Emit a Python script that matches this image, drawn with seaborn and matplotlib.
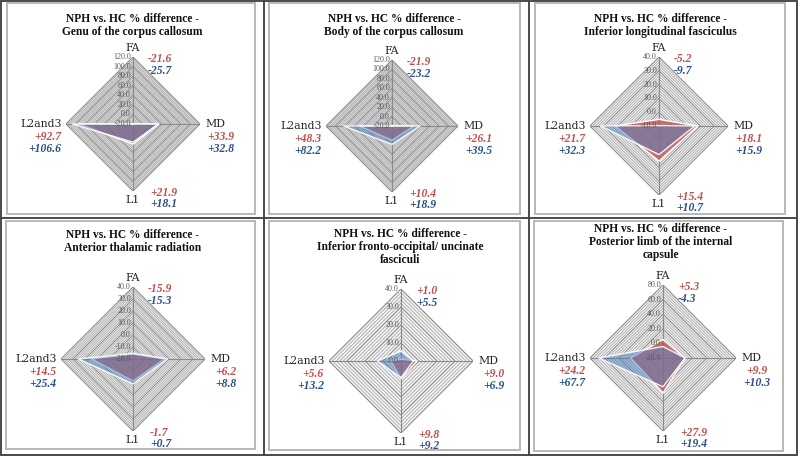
import numpy as np
import matplotlib
matplotlib.use("Agg")
import matplotlib.pyplot as plt
import seaborn as sns
from matplotlib.patches import Rectangle
from matplotlib.lines import Line2D

# ---------------- data ----------------
categories = ["FA", "MD", "L1", "L2and3"]
titles = [
    "NPH vs. HC % difference -\nGenu of the corpus callosum",
    "NPH vs. HC % difference -\nBody of the corpus callosum",
    "NPH vs. HC % difference -\nInferior longitudinal fasciculus",
    "NPH vs. HC % difference -\nAnterior thalamic radiation",
    "NPH vs. HC % difference -\nInferior fronto-occipital/ uncinate\nfasciculi",
    "NPH vs. HC % difference -\nPosterior limb of the internal\ncapsule",
]
red_values = [
    [-21.6, 33.9, 21.9, 92.7],
    [-21.9, 26.1, 10.4, 48.3],
    [-5.2, 18.1, 15.4, 21.7],
    [-15.9, 6.2, -1.7, 14.5],
    [1.0, 9.0, 9.8, 5.6],
    [5.3, 9.9, 27.9, 24.2],
]
blue_values = [
    [-25.7, 32.8, 18.1, 106.6],
    [-23.2, 39.5, 18.9, 82.2],
    [-9.7, 15.9, 10.7, 32.3],
    [-15.3, 8.8, 0.7, 25.4],
    [5.5, 6.9, 9.2, 13.2],
    [-4.3, 10.3, 19.4, 67.7],
]
axis_min = [-20, -20, -10, -20, 0, -20]
axis_max = [120, 120, 40, 40, 40, 80]
axis_step = [20, 20, 10, 10, 10, 20]

# ---------------- layout / style ----------------
W, H = 800, 458
radar_layout = [(133, 124, 67), (392, 126, 66), (659, 126, 69),
                (133, 359, 72), (401, 361, 72), (663, 358, 73)]
title_layout = [(132, 13), (394, 13), (660, 13), (133, 229), (400, 228), (661, 223)]
frame_layout = [(7, 3, 255, 214), (269, 3, 520, 214), (535, 3, 785, 214),
                (6, 221, 255, 449), (269, 221, 520, 450), (534, 221, 783, 451)]

RED = "#c0504d"
BLUE = "#4f81bd"
RED_TXT = "#c0504d"
BLUE_TXT = "#2b4f8a"

sns.set_theme(style="white")
plt.rcParams["font.family"] = ["DejaVu Serif"]

fig = plt.figure(figsize=(W / 100, H / 100), dpi=100)
fig.patch.set_facecolor("white")


def fig_line(xs, ys, color, lw):
    fig.add_artist(Line2D([x / W for x in xs], [1 - y / H for y in ys],
                          transform=fig.transFigure, color=color, lw=lw,
                          solid_capstyle="butt"))


def fig_rect(x0, y0, x1, y1, color, lw):
    fig.add_artist(Rectangle((x0 / W, 1 - y1 / H), (x1 - x0) / W, (y1 - y0) / H,
                             transform=fig.transFigure, fill=False,
                             edgecolor=color, lw=lw))


# panel frames and table lines
for (x0, y0, x1, y1) in frame_layout:
    fig_rect(x0, y0, x1, y1, "#b8b8b8", 1.4)
fig_rect(1, 1, 797, 455, "#3c3c3c", 1.3)
fig_line([264, 264], [1, 455], "#3c3c3c", 1.3)
fig_line([529, 529], [1, 455], "#3c3c3c", 1.3)
fig_line([1, 797], [218, 218], "#3c3c3c", 1.3)

theta = np.array([0.0, np.pi / 2, np.pi, 3 * np.pi / 2])
closed_t = np.append(theta, theta[0])

label_specs = {
    "FA": dict(xytext=(0, 3.2), ha="center", va="bottom"),
    "MD": dict(xytext=(4, 0), ha="left", va="center"),
    "L1": dict(xytext=(0, -6.5), ha="center", va="center"),
    "L2and3": dict(xytext=(-3, 0), ha="right", va="center"),
}
value_specs = {
    "FA": dict(red=(10.8, -1.4), blue=(10.8, -10.0), ha="left"),
    "MD": dict(red=(15.0, -9.6), blue=(15.0, -18.2), ha="center"),
    "L1": dict(red=(12.2, -1.4), blue=(12.2, -9.6), ha="left"),
    "L2and3": dict(red=(-3.6, -9.6), blue=(-3.6, -18.2), ha="right"),
}

for i in range(6):
    cx, cy, R = radar_layout[i]
    ax = fig.add_axes([(cx - R) / W, 1 - (cy + R) / H, 2 * R / W, 2 * R / H],
                      projection="polar")
    ax.set_theta_zero_location("N")
    ax.set_theta_direction(-1)
    rmin, rmax, step = axis_min[i], axis_max[i], axis_step[i]
    ax.set_ylim(rmin, rmax)
    ax.grid(False)
    ax.set_xticks([])
    ax.set_yticks([])
    ax.spines["polar"].set_visible(False)
    ax.patch.set_alpha(0)

    # background diamond and gridlines
    ax.fill(closed_t, [rmax] * 5, color="#f4f4f4", lw=0, zorder=0)
    minor = step / 5
    n_minor = int(round((rmax - rmin) / minor))
    for k in range(1, n_minor + 1):
        r = rmin + k * minor
        if k % 5 == 0:
            ax.plot(closed_t, [r] * 5, color="#8a8a8a", lw=0.8, zorder=1)
        else:
            ax.plot(closed_t, [r] * 5, color="#a8a8a8", lw=0.6, zorder=1)
    for t in theta:
        ax.plot([t, t], [rmin, rmax], color="#8a8a8a", lw=0.8, zorder=1)

    # series
    rv = np.maximum(np.array(red_values[i]), rmin)
    bv = np.maximum(np.array(blue_values[i]), rmin)
    ax.fill(closed_t, np.append(rv, rv[0]), facecolor=RED, alpha=0.75,
            edgecolor="none", zorder=3)
    ax.plot(closed_t, np.append(rv, rv[0]), color="white", lw=1.0, zorder=4)
    ax.fill(closed_t, np.append(bv, bv[0]), facecolor=BLUE, alpha=0.5,
            edgecolor="none", zorder=5)
    ax.plot(closed_t, np.append(bv, bv[0]), color="white", lw=1.0, alpha=0.9, zorder=6)

    # radial tick labels along FA axis
    n_major = int(round((rmax - rmin) / step))
    for k in range(n_major + 1):
        r = rmin + k * step
        ax.annotate(f"{r:.1f}", xy=(0, r), xytext=(-1.5, 0), textcoords="offset points",
                    ha="right", va="center", fontsize=5.8, color="#595959",
                    family="Liberation Serif", annotation_clip=False, zorder=7)

    # category labels and value annotations
    for j, cat in enumerate(categories):
        spec = label_specs[cat]
        ax.annotate(cat, xy=(theta[j], rmax), xytext=spec["xytext"],
                    textcoords="offset points", ha=spec["ha"], va=spec["va"],
                    fontsize=7.8, color="#262626", annotation_clip=False)
        vs = value_specs[cat]
        ax.annotate(f"{red_values[i][j]:+.1f}", xy=(theta[j], rmax), xytext=vs["red"],
                    textcoords="offset points", ha=vs["ha"], va="center",
                    fontsize=8.4, fontweight="bold", fontstyle="italic",
                    family="Liberation Serif", color=RED_TXT, annotation_clip=False)
        ax.annotate(f"{blue_values[i][j]:+.1f}", xy=(theta[j], rmax), xytext=vs["blue"],
                    textcoords="offset points", ha=vs["ha"], va="center",
                    fontsize=8.4, fontweight="bold", fontstyle="italic",
                    family="Liberation Serif", color=BLUE_TXT, annotation_clip=False)

    tx, ty = title_layout[i]
    fig.text(tx / W, 1 - ty / H, titles[i], ha="center", va="top", fontsize=8.3,
             fontweight="bold", family="Liberation Serif", linespacing=1.1,
             color="#111111")

fig.savefig("out.png", dpi=100)
